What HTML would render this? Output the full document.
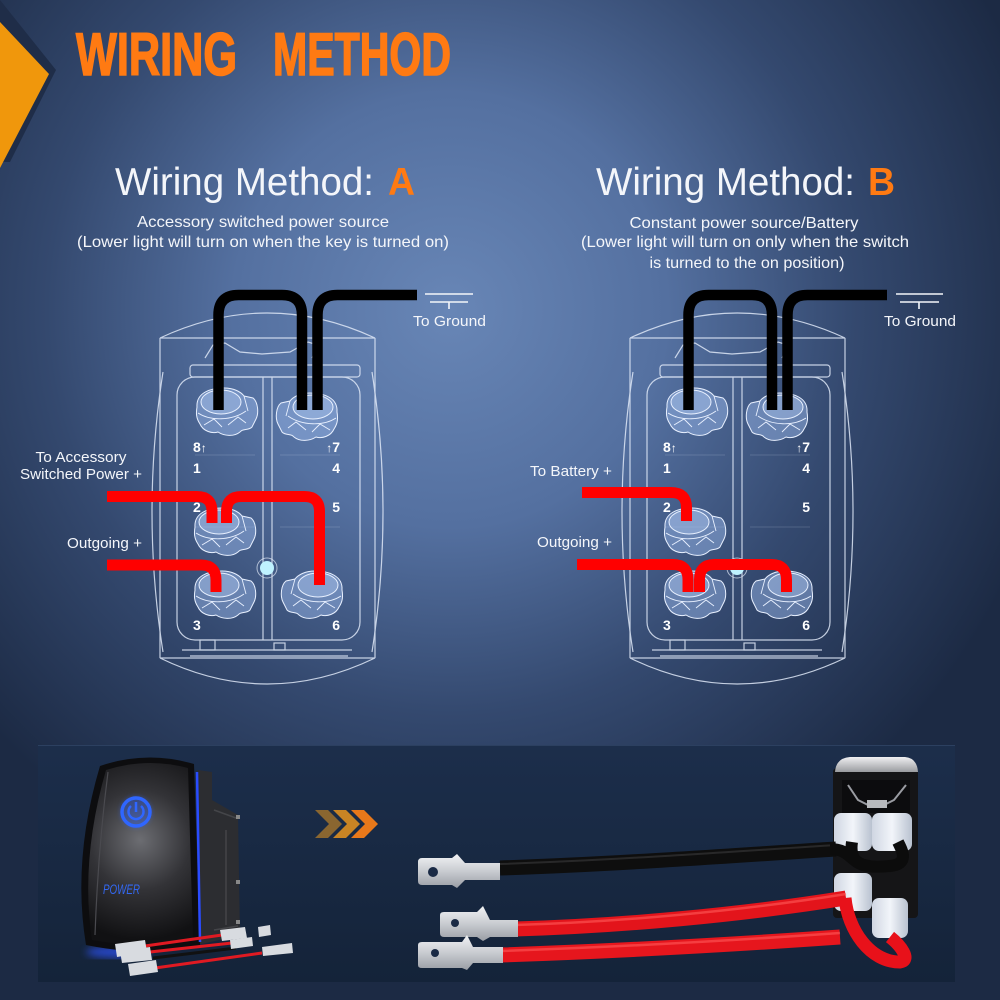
<!DOCTYPE html>
<html><head><meta charset="utf-8">
<style>
html,body{margin:0;padding:0;width:1000px;height:1000px;overflow:hidden;background:#22324f}
svg{display:block}
text{font-family:"Liberation Sans",Arial,sans-serif}
</style></head><body>
<svg width="1000" height="1000" viewBox="0 0 1000 1000" xmlns="http://www.w3.org/2000/svg">
<defs>
<radialGradient id="bg" cx="450" cy="310" r="620" gradientUnits="userSpaceOnUse">
<stop offset="0" stop-color="#6886b6"/>
<stop offset="0.35" stop-color="#5470a0"/>
<stop offset="0.65" stop-color="#34496f"/>
<stop offset="1" stop-color="#1c2a44"/>
</radialGradient>
<linearGradient id="pnl" x1="0" y1="0" x2="0" y2="1">
<stop offset="0" stop-color="#1c2e4b"/>
<stop offset="1" stop-color="#142339"/>
</linearGradient>
<radialGradient id="face" cx="140" cy="840" r="100" gradientUnits="userSpaceOnUse">
<stop offset="0" stop-color="#6c6d72"/>
<stop offset="0.5" stop-color="#333337"/>
<stop offset="1" stop-color="#111113"/>
</radialGradient>
<linearGradient id="silver" x1="0" y1="0" x2="0" y2="1">
<stop offset="0" stop-color="#f2f3f5"/>
<stop offset="0.5" stop-color="#c9ccd1"/>
<stop offset="1" stop-color="#9a9ea5"/>
</linearGradient>
<linearGradient id="cap" x1="0" y1="0" x2="0" y2="1">
<stop offset="0" stop-color="#f0f0f2"/>
<stop offset="1" stop-color="#9a9ca0"/>
</linearGradient>
<linearGradient id="conn" x1="0" y1="0" x2="1" y2="0">
<stop offset="0" stop-color="#cfd6e2"/>
<stop offset="0.5" stop-color="#f2f5fa"/>
<stop offset="1" stop-color="#b9c2d0"/>
</linearGradient>
<filter id="blur2"><feGaussianBlur stdDeviation="2"/></filter>
<filter id="blur4"><feGaussianBlur stdDeviation="4"/></filter>
<g id="tm">
 <path d="M-27,2 C-28,-12 -14,-17 0,-17 C10,-17 17,-13 20,-9 L29,-7 C34,-3 35,8 32,14 L28,22 C24,26 19,23 16,27 C10,32 0,31 -6,27 C-12,29 -21,26 -24,19 C-28,13 -28,8 -27,2 Z" fill="rgba(150,180,230,0.5)" stroke="#e8f0ff" stroke-width="1"/>
 <ellipse cx="-3" cy="-3" rx="20" ry="12" fill="rgba(175,200,240,0.4)" stroke="#e8f0ff" stroke-width="1"/>
 <path d="M-26,8 C-14,16 8,16 22,6 M-20,20 L-10,14 L-2,22 M4,20 L14,12 L22,18 M20,-9 L24,6" fill="none" stroke="#e8f0ff" stroke-width="0.9"/>
</g>
<g id="sw" fill="none" stroke="#dfe8f7" stroke-width="1.2" opacity="0.85">
 <path d="M160,338 Q267,288 375,338 Z"/>
 <path d="M160,338 V658 M375,338 V658"/>
 <path d="M160,658 Q267,710 375,658 Z"/>
 <path d="M163,372 Q141,512 163,652 M372,372 Q394,512 372,652"/>
 <rect x="190" y="365" width="170" height="12" rx="3"/>
 <rect x="177" y="377" width="183" height="263" rx="18"/>
 <path d="M263,377 V640 M272,377 V640"/>
 <path d="M182,650 H352 M190,656 H348"/>
 <rect x="200" y="640" width="15" height="10"/>
 <rect x="274" y="643" width="11" height="7"/>
 <path d="M205,358 L213,345 L225,343 L240,352 L262,354 L290,352 L308,342 L318,345 L312,358"/>
 <path d="M195,455 H255 M280,455 H340 M195,527 H255 M280,527 H340" stroke-width="0.6" opacity="0.4"/>
</g>
</defs>

<rect width="1000" height="1000" fill="url(#bg)"/>

<!-- corner decoration -->
<polygon points="0,0 56,70 10,162 0,162" fill="#1f2d48"/>
<polygon points="0,22 49,74 0,168" fill="#f0970c"/>

<!-- title -->
<text x="76" y="75" font-size="60" font-weight="bold" fill="#ff7a12" stroke="#ff7a12" stroke-width="1.6" textLength="161" lengthAdjust="spacingAndGlyphs">WIRING</text>
<text x="273" y="75" font-size="60" font-weight="bold" fill="#ff7a12" stroke="#ff7a12" stroke-width="1.6" textLength="178" lengthAdjust="spacingAndGlyphs">METHOD</text>

<!-- headings A -->
<text x="115" y="195" font-size="39" fill="#f4f6fa" textLength="259" lengthAdjust="spacingAndGlyphs">Wiring Method:</text>
<text x="388" y="195" font-size="39" font-weight="bold" fill="#ff7a12" textLength="27" lengthAdjust="spacingAndGlyphs">A</text>
<text x="263" y="227" font-size="16" fill="#f4f6fa" text-anchor="middle" textLength="252" lengthAdjust="spacingAndGlyphs">Accessory switched power source</text>
<text x="263" y="247" font-size="16" fill="#f4f6fa" text-anchor="middle" textLength="372" lengthAdjust="spacingAndGlyphs">(Lower light will turn on when the key is turned on)</text>

<!-- headings B -->
<text x="596" y="195" font-size="39" fill="#f4f6fa" textLength="259" lengthAdjust="spacingAndGlyphs">Wiring Method:</text>
<text x="868" y="195" font-size="39" font-weight="bold" fill="#ff7a12" textLength="27" lengthAdjust="spacingAndGlyphs">B</text>
<text x="744" y="228" font-size="16" fill="#f4f6fa" text-anchor="middle" textLength="229" lengthAdjust="spacingAndGlyphs">Constant power source/Battery</text>
<text x="745" y="247" font-size="16" fill="#f4f6fa" text-anchor="middle" textLength="328" lengthAdjust="spacingAndGlyphs">(Lower light will turn on only when the switch</text>
<text x="747" y="268" font-size="16" fill="#f4f6fa" text-anchor="middle" textLength="195" lengthAdjust="spacingAndGlyphs">is turned to the on position)</text>

<!-- switch outlines -->
<use href="#sw"/>
<use href="#sw" transform="translate(470,0)"/>

<!-- terminals A -->
<use href="#tm" transform="translate(224,405)"/>
<use href="#tm" transform="translate(310,410) scale(-1,1)"/>
<use href="#tm" transform="translate(222,525)"/>
<use href="#tm" transform="translate(222,588)"/>
<use href="#tm" transform="translate(315,588) scale(-1,1)"/>
<!-- terminals B -->
<use href="#tm" transform="translate(694,405)"/>
<use href="#tm" transform="translate(780,410) scale(-1,1)"/>
<use href="#tm" transform="translate(692,525)"/>
<use href="#tm" transform="translate(692,588)"/>
<use href="#tm" transform="translate(785,588) scale(-1,1)"/>

<!-- LEDs -->
<circle cx="267" cy="568" r="10" fill="none" stroke="#dfe8f7" stroke-width="1" opacity="0.7"/>
<circle cx="267" cy="568" r="7" fill="#bff2ff"/>
<circle cx="737" cy="568" r="10" fill="none" stroke="#dfe8f7" stroke-width="1" opacity="0.7"/>
<circle cx="737" cy="568" r="7" fill="#bff2ff"/>

<!-- pin numbers -->
<g font-size="14" font-weight="bold" fill="#ffffff">
<text x="193" y="452">8<tspan font-size="12">↑</tspan></text>
<text x="193" y="473">1</text>
<text x="193" y="512">2</text>
<text x="193" y="630">3</text>
<text x="340" y="452" text-anchor="end"><tspan font-size="12">↑</tspan>7</text>
<text x="340" y="473" text-anchor="end">4</text>
<text x="340" y="512" text-anchor="end">5</text>
<text x="340" y="630" text-anchor="end">6</text>
<text x="663" y="452">8<tspan font-size="12">↑</tspan></text>
<text x="663" y="473">1</text>
<text x="663" y="512">2</text>
<text x="663" y="630">3</text>
<text x="810" y="452" text-anchor="end"><tspan font-size="12">↑</tspan>7</text>
<text x="810" y="473" text-anchor="end">4</text>
<text x="810" y="512" text-anchor="end">5</text>
<text x="810" y="630" text-anchor="end">6</text>
</g>

<!-- black wires -->
<g fill="none" stroke="#000" stroke-width="10.5">
<path d="M218.5,410 V315 Q218.5,295 238.5,295 H282 Q302,295 302,315 V410"/>
<path d="M317.5,410 V315 Q317.5,295 337.5,295 H417"/>
<path d="M688.5,410 V315 Q688.5,295 708.5,295 H752 Q772,295 772,315 V410"/>
<path d="M787.5,410 V315 Q787.5,295 807.5,295 H887"/>
</g>

<!-- red wires -->
<g fill="none" stroke="#ff0000" stroke-width="11">
<path d="M107,496.5 H197 Q212,496.5 212,511.5 V523"/>
<path d="M226.5,523 V511.5 Q226.5,496.5 241.5,496.5 H304.5 Q319.5,496.5 319.5,511.5 V585"/>
<path d="M107,565 H201 Q216,565 216,580 V592"/>
<path d="M582,492.5 H671 Q686.5,492.5 686.5,507.5 V521"/>
<path d="M577,564.5 H673 Q688,564.5 688,579.5 V592"/>
<path d="M699.5,592 V579.5 Q699.5,564.5 714.5,564.5 H771.5 Q786.5,564.5 786.5,579.5 V592"/>
</g>

<!-- ground symbols -->
<g stroke="#f4f6fa" stroke-width="1.6">
<path d="M425,294 H473 M430,302 H468 M449,302 V309"/>
<path d="M896,294 H943 M900,302 H939 M919,302 V309"/>
</g>
<g font-size="15" fill="#f4f6fa">
<text x="413" y="326" textLength="73" lengthAdjust="spacingAndGlyphs">To Ground</text>
<text x="884" y="326" textLength="72" lengthAdjust="spacingAndGlyphs">To Ground</text>
<text x="81" y="462" text-anchor="middle" textLength="91" lengthAdjust="spacingAndGlyphs">To Accessory</text>
<text x="20" y="479" textLength="122" lengthAdjust="spacingAndGlyphs">Switched Power +</text>
<text x="67" y="548" textLength="75" lengthAdjust="spacingAndGlyphs">Outgoing +</text>
<text x="530" y="476" textLength="82" lengthAdjust="spacingAndGlyphs">To Battery +</text>
<text x="537" y="547" textLength="75" lengthAdjust="spacingAndGlyphs">Outgoing +</text>
</g>

<!-- bottom panel -->
<rect x="38" y="745" width="917" height="237" fill="url(#pnl)"/>
<line x1="38" y1="745.5" x2="955" y2="745.5" stroke="#2c4060" stroke-width="1"/>

<!-- rocker switch photo -->
<ellipse cx="118" cy="952" rx="32" ry="6" fill="#2f55ff" opacity="0.7" filter="url(#blur4)"/>
<polygon points="198,770 212,772 212,800 238,815 240,935 198,945" fill="#2c2d31"/>
<path d="M214,810 L236,818 M214,930 L238,926 M226,830 V925" stroke="#444549" stroke-width="1.5" fill="none"/>
<rect x="236" y="815" width="4" height="4" fill="#888"/>
<rect x="236" y="880" width="4" height="4" fill="#888"/>
<rect x="236" y="920" width="4" height="4" fill="#888"/>
<path d="M100,766 Q147,750 194,764 L200,945 Q150,958 86,945 Q72,860 100,766 Z" fill="#0d0d0f"/>
<path d="M106,770 Q147,757 188,768 L193,940 Q150,950 92,940 Q80,860 106,770 Z" fill="url(#face)"/>
<path d="M108,772 Q98,850 95,935" stroke="#4a4a4f" stroke-width="1.2" fill="none"/>
<path d="M197,772 L200,942" stroke="#2a4cff" stroke-width="2.5" fill="none"/>
<circle cx="136" cy="812" r="16" fill="#2e64ff" opacity="0.35" filter="url(#blur2)"/>
<circle cx="136" cy="812" r="14" fill="none" stroke="#2f66ff" stroke-width="3.5"/>
<path d="M131,806 A7.5,7.5 0 1 0 141,806" fill="none" stroke="#2f66ff" stroke-width="2.5"/>
<line x1="136" y1="802" x2="136" y2="812" stroke="#2f66ff" stroke-width="2.5"/>
<text x="103" y="894" font-size="14" font-style="italic" fill="#3368f2" textLength="37" lengthAdjust="spacingAndGlyphs">POWER</text>
<!-- small wires -->
<g fill="none" stroke-width="3">
<path d="M145,946 L222,935" stroke="#e01a22"/>
<path d="M150,952 L232,943" stroke="#e01a22"/>
<path d="M153,958 L236,948" stroke="#111"/>
<path d="M155,968 L262,953" stroke="#e01a22"/>
</g>
<g fill="#d8dbe0">
<polygon points="115,944 145,940 147,952 117,957"/>
<polygon points="120,951 150,947 152,960 122,963"/>
<polygon points="128,964 156,960 158,972 130,976"/>
<polygon points="220,930 245,927 247,938 222,941"/>
<polygon points="230,940 252,937 253,946 231,949"/>
<polygon points="258,927 270,925 271,935 259,937"/>
<polygon points="262,947 292,943 293,953 263,956"/>
</g>

<!-- chevrons -->
<polygon points="315,810 328,810 342,824 328,838 315,838 329,824" fill="#8a6630"/>
<polygon points="333,810 346,810 360,824 346,838 333,838 347,824" fill="#c88424"/>
<polygon points="351,810 364,810 378,824 364,838 351,838 365,824" fill="#e8781a"/>

<!-- right switch photo -->
<rect x="833" y="768" width="85" height="150" rx="4" fill="#151517"/>
<path d="M835,772 Q836,758 850,757 H905 Q917,758 918,772 Z" fill="url(#cap)"/>
<rect x="842" y="780" width="68" height="33" fill="#0c0c0e"/>
<path d="M848,785 L858,800 L868,805 L884,805 L894,800 L906,785" fill="none" stroke="#9a9ca2" stroke-width="2"/>
<rect x="867" y="800" width="20" height="8" fill="#b8babe"/>
<rect x="834" y="813" width="38" height="38" rx="7" fill="url(#conn)"/>
<rect x="872" y="813" width="40" height="38" rx="7" fill="url(#conn)"/>
<rect x="834" y="873" width="38" height="38" rx="7" fill="url(#conn)"/>
<rect x="872" y="898" width="36" height="40" rx="7" fill="url(#conn)"/>
<!-- black wire -->
<path d="M500,868 C620,864 740,855 836,849" fill="none" stroke="#0e0e0e" stroke-width="15"/>
<path d="M500,864 C620,860 740,851 836,845" fill="none" stroke="#3a3a3c" stroke-width="2" opacity="0.6"/>
<path d="M852,842 C848,868 870,868 890,866 C910,864 902,850 898,842" fill="none" stroke="#0c0c0c" stroke-width="12"/>
<path d="M830,849 C852,849 850,865 870,866" fill="none" stroke="#0c0c0c" stroke-width="12"/>
<!-- red wires -->
<path d="M515,929 C620,926 740,915 846,898" fill="none" stroke="#e3141b" stroke-width="15"/>
<path d="M515,925 C620,922 740,911 846,894" fill="none" stroke="#ff5a5a" stroke-width="2.5" opacity="0.6"/>
<path d="M500,955 C620,951 740,944 840,937" fill="none" stroke="#e6161d" stroke-width="15"/>
<path d="M500,951 C620,947 740,940 840,933" fill="none" stroke="#ff5a5a" stroke-width="2.5" opacity="0.6"/>
<path d="M845,898 C848,930 870,962 900,962 C912,960 900,945 890,937" fill="none" stroke="#e8111a" stroke-width="13"/>
<!-- terminals -->
<path d="M418,862 Q418,858 422,858 L452,858 L457,854 L465,863 L500,863 L500,880 L465,880 L457,888 L452,885 L422,885 Q418,885 418,881 Z" fill="url(#silver)"/>
<circle cx="433" cy="872" r="5" fill="#1a2a45"/>
<path d="M440,915 Q440,912 444,912 L477,912 L483,906 L490,920 L518,920 L518,937 L490,937 L483,941 L477,937 L444,937 Q440,937 440,933 Z" fill="url(#silver)"/>
<circle cx="455" cy="923" r="4" fill="#1a2a45"/>
<path d="M418,945 Q418,942 422,942 L462,942 L467,935 L473,947 L503,947 L503,963 L473,963 L467,970 L462,968 L422,968 Q418,968 418,965 Z" fill="url(#silver)"/>
<circle cx="435" cy="953" r="4" fill="#1a2a45"/>
</svg>
</body></html>
